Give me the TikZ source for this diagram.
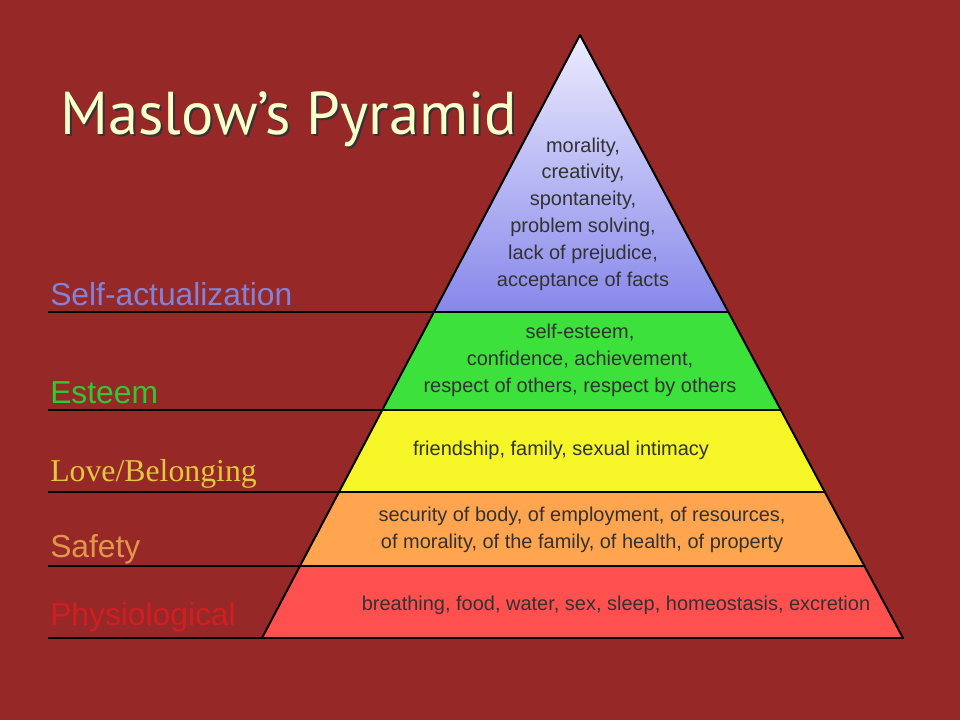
\documentclass[tikz,border=0pt]{standalone}
\usepackage{fontspec}
\usetikzlibrary{calc}
\setmainfont{Liberation Sans}
\newfontfamily\titlefont{PT Sans}
\newfontfamily\seriffont{Liberation Serif}
\definecolor{bgred}{RGB}{150,40,40}
\definecolor{titlecream}{RGB}{255,255,204}
\definecolor{needtext}{RGB}{50,50,50}
\definecolor{selfc}{RGB}{130,130,215}
\definecolor{esteemc}{RGB}{50,200,50}
\definecolor{lovec}{RGB}{225,200,60}
\definecolor{safetyc}{RGB}{225,150,75}
\definecolor{physc}{RGB}{210,30,35}

\begin{document}
\begin{tikzpicture}[x=0.025cm,y=-0.025cm,
	level/.style={draw=black,line width=1.4pt,line join=round},
	guide/.style={draw=black,line width=2pt},
	lvlname/.style={anchor=base west,inner sep=0pt,font=\fontsize{22.6}{27}\selectfont},
	need/.style={align=center,inner sep=0pt,text=needtext,font=\fontsize{14.2}{19.1}\selectfont}]
	\fill[bgred] (0,0) rectangle (960,720);
	\useasboundingbox (0,0) rectangle (960,720);

	\coordinate (top) at (580,35);
	\coordinate (bl) at (262,638);
	\coordinate (br) at (903,638);
	\coordinate (l1) at ($(top)!0.4594!(bl)$);
	\coordinate (r1) at ($(top)!0.4594!(br)$);
	\coordinate (l2) at ($(top)!0.6219!(bl)$);
	\coordinate (r2) at ($(top)!0.6219!(br)$);
	\coordinate (l3) at ($(top)!0.7579!(bl)$);
	\coordinate (r3) at ($(top)!0.7579!(br)$);
	\coordinate (l4) at ($(top)!0.8806!(bl)$);
	\coordinate (r4) at ($(top)!0.8806!(br)$);
	\coordinate (gx) at (48,0);

	\shade[level, top color={rgb,255:red,236;green,236;blue,255}, bottom color={rgb,255:red,135;green,135;blue,235}]
		(top) -- (r1) -- (l1) -- cycle;
	\shade[level, left color={rgb,255:red,60;green,225;blue,60}, middle color={rgb,255:red,110;green,250;blue,110}, right color={rgb,255:red,60;green,225;blue,60}]
		(l1) -- (r1) -- (r2) -- (l2) -- cycle;
	\shade[level, left color={rgb,255:red,245;green,245;blue,40}, middle color={rgb,255:red,255;green,255;blue,110}, right color={rgb,255:red,245;green,245;blue,40}]
		(l2) -- (r2) -- (r3) -- (l3) -- cycle;
	\shade[level, left color={rgb,255:red,255;green,165;blue,80}, middle color={rgb,255:red,255;green,195;blue,115}, right color={rgb,255:red,255;green,165;blue,80}]
		(l3) -- (r3) -- (r4) -- (l4) -- cycle;
	\shade[level, left color={rgb,255:red,255;green,80;blue,80}, middle color={rgb,255:red,255;green,135;blue,135}, right color={rgb,255:red,255;green,80;blue,80}]
		(l4) -- (r4) -- (br) -- (bl) -- cycle;

	\draw[guide] (l1 -| gx) -- (l1);
	\draw[guide] (l2 -| gx) -- (l2);
	\draw[guide] (l3 -| gx) -- (l3);
	\draw[guide] (l4 -| gx) -- (l4);
	\draw[guide] (bl -| gx) -- (bl);

	\node[need] (selfneeds) at (583,214) {morality,\\creativity,\\spontaneity,\\problem solving,\\lack of prejudice,\\acceptance of facts};
	\node[need] (esteemneeds) at (580,360) {self-esteem,\\confidence, achievement,\\respect of others, respect by others};
	\node[need] (loveneeds) at (561,450) {friendship, family, sexual intimacy};
	\node[need] (safetyneeds) at (582,530) {security of body, of employment, of resources,\\of morality, of the family, of health, of property};
	\node[need] (physneeds) at (616,605) {breathing, food, water, sex, sleep, homeostasis, excretion};

	\node[lvlname, text=selfc] (self) at (50,306) {Self-actualization};
	\node[lvlname, text=esteemc] (esteem) at (50,404) {Esteem};
	\node[lvlname, text=lovec, font=\seriffont\fontsize{22.6}{27}\selectfont] (love) at (50,482) {Love/Belonging};
	\node[lvlname, text=safetyc] (safety) at (50,557) {Safety};
	\node[lvlname, text=physc] (phys) at (50,625) {Physiological};

	\node[anchor=base west, inner sep=0pt, text=black!80, font=\titlefont\fontsize{43}{50}\selectfont] (shadow) at (62,137) {Maslow’s Pyramid};
	\node[anchor=base west, inner sep=0pt, text=titlecream, font=\titlefont\fontsize{43}{50}\selectfont] (title) at (60,135) {Maslow’s Pyramid};
\end{tikzpicture}
\end{document}
